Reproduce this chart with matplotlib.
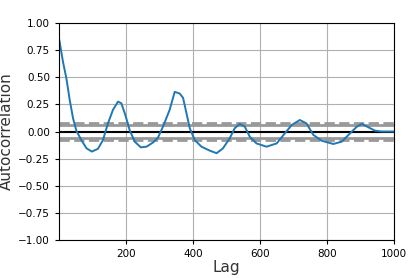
import matplotlib
matplotlib.use("Agg")
import matplotlib.pyplot as plt
import numpy as np

# values
lags = [1, 13, 23, 33, 43, 53, 68, 83, 99, 117, 132, 147, 162, 177, 187, 199,
        212, 227, 245, 262, 282, 296, 311, 331, 346, 361, 371, 381, 391, 406,
        426, 451, 471, 490, 510, 525, 540, 555, 570, 590, 620, 650, 675, 695,
        719, 739, 759, 784, 819, 844, 869, 889, 904, 923, 943, 963, 1000]
acf = [0.86, 0.64, 0.49, 0.29, 0.12, 0.005, -0.08, -0.155, -0.185, -0.16,
       -0.08, 0.075, 0.20, 0.275, 0.26, 0.15, 0.01, -0.094, -0.146, -0.14,
       -0.10, -0.057, 0.044, 0.20, 0.365, 0.35, 0.31, 0.17, 0.03, -0.08,
       -0.14, -0.177, -0.20, -0.155, -0.063, 0.03, 0.07, 0.045, -0.048, -0.11,
       -0.14, -0.11, -0.015, 0.06, 0.106, 0.075, -0.03, -0.085, -0.115, -0.094,
       -0.017, 0.044, 0.07, 0.04, 0.008, 0.0, 0.0]
n = 1000
z95 = 1.959963984540054
z99 = 2.5758293035489004

fig, ax = plt.subplots(figsize=(4.13, 2.78), dpi=100)
fig.subplots_adjust(left=59/413, right=394/413, top=1-23/278, bottom=1-240/278)

band = "#999999"
ax.axhline(y=z99/np.sqrt(n), linestyle="--", color=band, linewidth=2)
ax.axhline(y=z95/np.sqrt(n), color=band, linewidth=2)
ax.axhline(y=0.0, color="black", linewidth=1.5)
ax.axhline(y=-z95/np.sqrt(n), color=band, linewidth=2)
ax.axhline(y=-z99/np.sqrt(n), linestyle="--", color=band, linewidth=2)
ax.plot(lags, acf, color="#1f77b4", linewidth=1.4)

ax.set_xlim(1, n)
ax.set_ylim(-1.0, 1.0)
ax.set_xticks([200, 400, 600, 800, 1000])
ax.set_yticks(np.arange(-1.0, 1.01, 0.25))
ax.tick_params(labelsize=7.5, length=3, width=0.8)
ax.set_xlabel("Lag", fontsize=11, color="#333333", labelpad=1)
ax.set_ylabel("Autocorrelation", fontsize=11, color="#333333", labelpad=3)
ax.grid(color="#b0b0b0", linewidth=0.8)

fig.savefig("out.png", dpi=100)
